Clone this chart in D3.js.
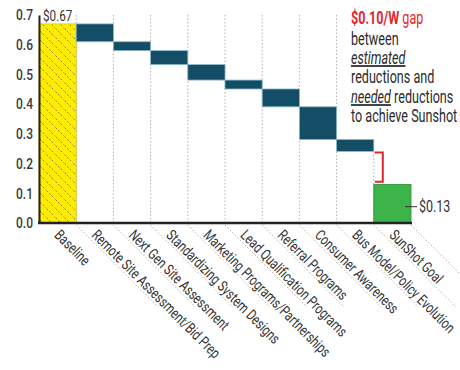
<!DOCTYPE html>
<html>
<head>
<meta charset="utf-8">
<script src="https://cdn.jsdelivr.net/npm/d3@7"></script>
<style>
  html, body { margin: 0; padding: 0; background: #fff; }
  svg { display: block; font-family: Roboto, "Noto Sans", sans-serif; }
</style>
</head>
<body>
<svg id="chart" width="460" height="370"></svg>
<script>
// Categories along the x axis
const categories = [
  "Baseline",
  "Remote Site Assessment/Bid Prep",
  "Next Gen Site Assessment",
  "Standardizing System Designs",
  "Marketing Programs/Partnerships",
  "Lead Qualification Programs",
  "Referral Programs",
  "Consumer Awareness",
  "Bus Model/Policy Evolution",
  "SunShot Goal"
];
// Starting cost ($/W)
const baselineValue = 0.67;
// Estimated reduction from each measure ($/W)
const reductions = [0.06, 0.03, 0.047, 0.052, 0.03, 0.06, 0.11, 0.04];
// Target cost ($/W)
const goalValue = 0.13;
// Y axis ticks
const yTicks = [0, 0.1, 0.2, 0.3, 0.4, 0.5, 0.6, 0.7];
// Annotation lines
const gapLines = ["between", "estimated", "reductions and", "needed reductions", "to achieve Sunshot"];

const svg = d3.select("#chart");
const x = d3.scaleBand().domain(categories).range([39, 411]).padding(0);
const y = d3.scaleLinear().domain([0, 0.7]).range([223, 15]);

// Waterfall steps
let level = baselineValue;
const steps = reductions.map((r, i) => {
  const s = { cat: categories[i + 1], top: level, bottom: level - r };
  level -= r;
  return s;
});
const endLevel = level;

// Hatch pattern for the baseline bar
const defs = svg.append("defs");
const pat = defs.append("pattern")
  .attr("id", "hatch").attr("patternUnits", "userSpaceOnUse")
  .attr("width", 9).attr("height", 9);
pat.append("rect").attr("width", 9).attr("height", 9).attr("fill", "#ffec00");
pat.append("path").attr("d", "M-1,-1 L10,10 M-1,8 L1,10 M8,-1 L10,1")
  .attr("stroke", "#7d7a3a").attr("stroke-width", 0.9)
  .attr("stroke-dasharray", "2,1.6");

// Vertical dotted gridlines at band boundaries
const grid = svg.append("g");
categories.slice(1, 9).forEach(c => {
  grid.append("line")
    .attr("x1", x(c)).attr("x2", x(c))
    .attr("y1", y(0.7)).attr("y2", y(0))
    .attr("stroke", "#b0b0b0").attr("stroke-dasharray", "1.5,2");
});
grid.append("line")
  .attr("x1", x(categories[9])).attr("x2", x(categories[9]))
  .attr("y1", y(endLevel)).attr("y2", y(0))
  .attr("stroke", "#b0b0b0").attr("stroke-dasharray", "1.5,2");

// Diagonal separators between the rotated labels
const sepX = categories.slice(1).map(c => x(c)).concat([x.range()[1]]);
svg.append("g").selectAll("line").data(sepX).join("line")
  .attr("x1", d => d).attr("y1", y(0) + 2)
  .attr("x2", d => d + 82).attr("y2", y(0) + 84)
  .attr("stroke", "#b0b0b0").attr("stroke-dasharray", "1.5,2");

// Baseline bar
svg.append("rect")
  .attr("x", x(categories[0])).attr("y", y(baselineValue))
  .attr("width", x.bandwidth()).attr("height", y(0) - y(baselineValue))
  .attr("fill", "url(#hatch)").attr("stroke", "#c9b800").attr("stroke-width", 0.6);

// Reduction steps
svg.append("g").selectAll("rect").data(steps).join("rect")
  .attr("x", d => x(d.cat)).attr("y", d => y(d.top))
  .attr("width", x.bandwidth()).attr("height", d => y(d.bottom) - y(d.top))
  .attr("fill", "#134d66").attr("stroke", "#8ab8c8").attr("stroke-width", 0.8);

// Goal bar
svg.append("rect")
  .attr("x", x(categories[9])).attr("y", y(goalValue))
  .attr("width", x.bandwidth()).attr("height", y(0) - y(goalValue))
  .attr("fill", "#3cb449").attr("stroke", "#2a8e37").attr("stroke-width", 0.8);

// Y axis
const yAxis = svg.append("g").attr("transform", `translate(${x.range()[0]},0)`)
  .call(d3.axisLeft(y).tickValues(yTicks).tickFormat(d3.format(".1f"))
    .tickSize(0).tickPadding(6));
yAxis.select(".domain").attr("stroke", "#222").attr("stroke-width", 2);
yAxis.selectAll("text")
  .attr("font-size", 15).attr("fill", "#3a3a3a").attr("font-family", "Roboto")
  .attr("font-weight", 500)
  .attr("transform", "scale(0.8,1)")
  .attr("x", -6 / 0.8);

// X axis line
svg.append("line")
  .attr("x1", x.range()[0] - 1).attr("x2", x.range()[1] + 1)
  .attr("y1", y(0)).attr("y2", y(0))
  .attr("stroke", "#222").attr("stroke-width", 2.5);

// Rotated category labels
const xAxis = svg.append("g").attr("transform", `translate(0,${y(0)})`)
  .call(d3.axisBottom(x).tickSize(0));
xAxis.select(".domain").remove();
xAxis.selectAll("text")
  .attr("y", 0).attr("dy", 0)
  .attr("text-anchor", "start")
  .attr("font-size", 15).attr("fill", "#333").attr("font-family", "Roboto")
  .attr("transform", "translate(-4,13) rotate(45) scale(0.76,1)");

// Baseline value label
svg.append("text")
  .attr("transform", `translate(${x.range()[0] + 4},${y(baselineValue) - 3}) scale(0.78,1)`)
  .attr("font-size", 15).attr("fill", "#333").text("$0.67");

// Goal value label with leader
const goalLabelY = y(goalValue / 2) + 3;
svg.append("line")
  .attr("x1", x(categories[9]) + x.bandwidth() - 6).attr("x2", x(categories[9]) + x.bandwidth() + 6)
  .attr("y1", goalLabelY).attr("y2", goalLabelY)
  .attr("stroke", "#333").attr("stroke-width", 1);
svg.append("text")
  .attr("transform", `translate(${x(categories[9]) + x.bandwidth() + 8},${goalLabelY + 5.5}) scale(0.78,1)`)
  .attr("font-size", 16).attr("fill", "#333").text("$0.13");

// Gap bracket
const bx = x(categories[9]) + 9;
const by1 = y(endLevel) + 1, by2 = y(goalValue) - 2.5;
svg.append("path")
  .attr("d", `M${bx - 8},${by1} H${bx} V${by2} H${bx - 8}`)
  .attr("fill", "none").attr("stroke", "#e3262e").attr("stroke-width", 2);

// Gap annotation
const ann = svg.append("g").attr("transform", "translate(351,0) scale(0.72,1)");
const fs = 17.5;
const t0 = ann.append("text").attr("y", 24).attr("font-size", fs).attr("fill", "#e3262e");
t0.append("tspan").attr("font-weight", "bold").text("$0.10/W");
t0.append("tspan").text(" gap");
ann.append("text").attr("y", 45).attr("font-size", fs).attr("fill", "#2a2a2a").text(gapLines[0]);
ann.append("text").attr("y", 64).attr("font-size", fs).attr("fill", "#2a2a2a")
  .attr("font-style", "italic").attr("text-decoration", "underline").text(gapLines[1]);
ann.append("text").attr("y", 83.5).attr("font-size", fs).attr("fill", "#2a2a2a").text(gapLines[2]);
const t4 = ann.append("text").attr("y", 103).attr("font-size", fs).attr("fill", "#2a2a2a");
t4.append("tspan").attr("font-style", "italic").attr("text-decoration", "underline").text("needed");
t4.append("tspan").text(" reductions");
ann.append("text").attr("y", 122).attr("font-size", fs).attr("fill", "#2a2a2a").text(gapLines[4]);
</script>
</body>
</html>
